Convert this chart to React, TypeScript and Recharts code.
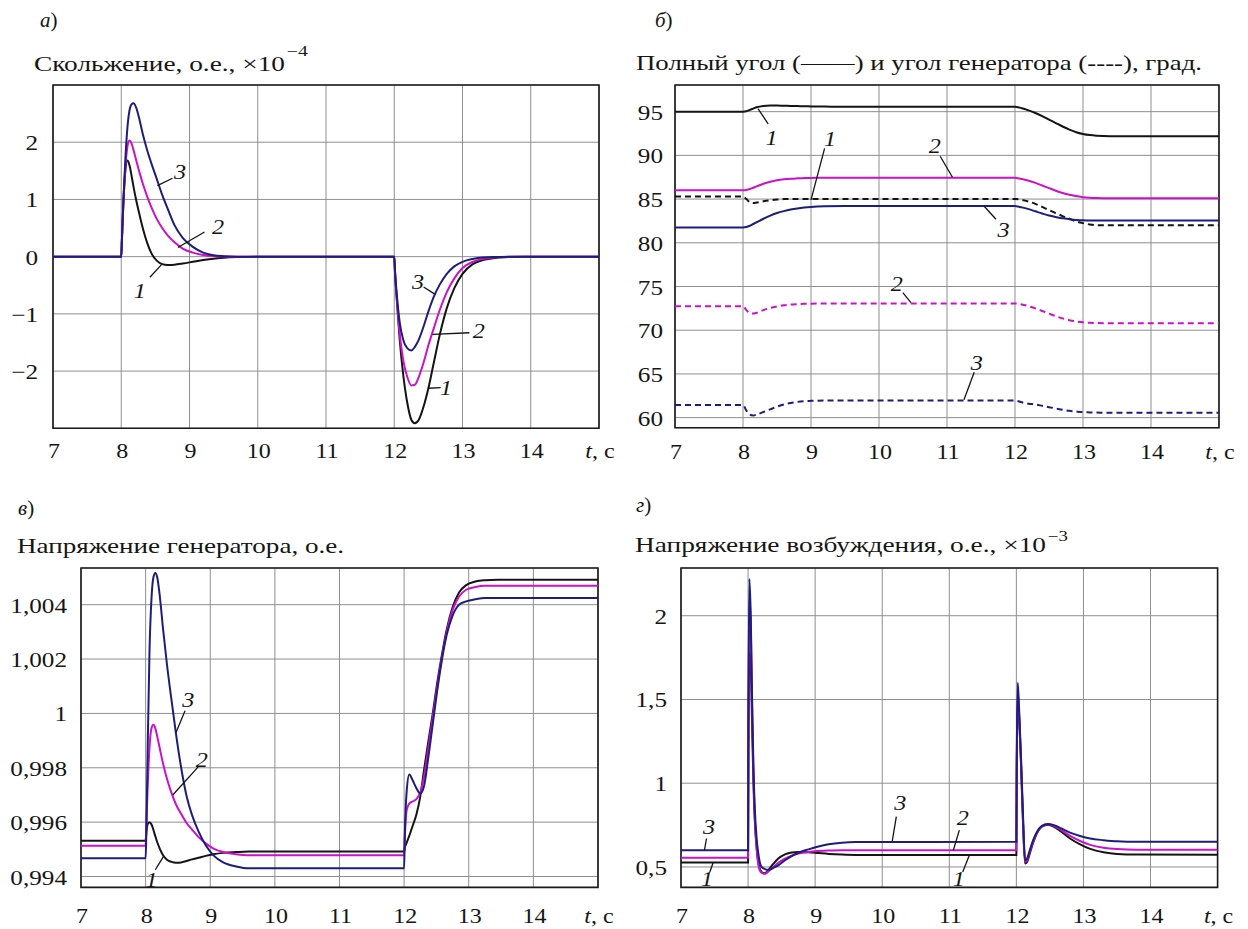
import React from 'react';
import { LineChart, Line, XAxis, YAxis, CartesianGrid, ReferenceArea, ReferenceLine, ReferenceDot } from 'recharts';

const FONT = "Liberation Serif, Tinos, DejaVu Serif, Noto Serif, Times New Roman, serif";
const INK = '#151515';
const C1 = '#141414';
const C2 = '#cc11cc';
const C3 = '#1d1d7e';
const GRID = '#8f8f8f';
const STRETCH = 1.2;

// ---------- shared axis ----------
const tTicks = [7, 8, 9, 10, 11, 12, 13, 14, 15];

// ---------- panel а: slip ×10^-4 ----------
const tA = [7, 8, 8.01, 8.03, 8.06, 8.09, 8.12, 8.15, 8.18, 8.22, 8.27, 8.32, 8.38, 8.45, 8.52, 8.6, 8.68, 8.78, 8.9, 9.05, 9.2, 9.35, 9.5, 9.7, 10,
  12, 12.01, 12.04, 12.08, 12.13, 12.19, 12.25, 12.3, 12.36, 12.43, 12.5, 12.58, 12.67, 12.77, 12.88, 13.0, 13.15, 13.3, 13.5, 13.7, 13.9, 14.2, 15];
const slip1 = [0, 0, 0.3, 0.9, 1.5, 1.68, 1.6, 1.42, 1.22, 0.98, 0.72, 0.48, 0.24, 0.04, -0.07, -0.13, -0.145, -0.14, -0.12, -0.09, -0.06, -0.035, -0.02, -0.008, 0,
  0, -0.25, -0.8, -1.45, -2.05, -2.55, -2.85, -2.91, -2.85, -2.62, -2.3, -1.85, -1.35, -0.9, -0.55, -0.3, -0.13, -0.06, -0.02, -0.005, 0, 0, 0];
const slip2 = [0, 0, 0.3, 0.9, 1.55, 1.92, 2.03, 1.98, 1.86, 1.68, 1.46, 1.26, 1.05, 0.84, 0.66, 0.5, 0.37, 0.25, 0.14, 0.07, 0.03, 0.01, 0.003, 0, 0,
  0, -0.25, -0.78, -1.35, -1.8, -2.1, -2.25, -2.24, -2.1, -1.85, -1.55, -1.25, -0.92, -0.62, -0.38, -0.2, -0.09, -0.04, -0.012, 0, 0, 0, 0];
const slip3 = [0, 0, 0.3, 0.95, 1.7, 2.25, 2.55, 2.66, 2.68, 2.6, 2.38, 2.12, 1.86, 1.6, 1.36, 1.08, 0.84, 0.55, 0.33, 0.17, 0.07, 0.025, 0.008, 0, 0,
  0, -0.22, -0.7, -1.15, -1.45, -1.6, -1.64, -1.58, -1.45, -1.22, -0.96, -0.7, -0.48, -0.3, -0.17, -0.09, -0.04, -0.015, -0.005, 0, 0, 0, 0];
const yTicksA = [-2, -1, 0, 1, 2];

// ---------- panel б: angles, deg ----------
const tB = [7, 8, 8.05, 8.1, 8.15, 8.2, 8.3, 8.4, 8.5, 8.6, 8.7, 8.8, 8.9, 9.0, 9.2, 9.5,
  12, 12.1, 12.2, 12.3, 12.4, 12.5, 12.6, 12.7, 12.8, 12.9, 13.0, 13.1, 13.2, 13.4, 15];
const full1 = [95.0, 95.0, 95.05, 95.2, 95.35, 95.5, 95.65, 95.7, 95.7, 95.68, 95.66, 95.64, 95.62, 95.6, 95.58, 95.55,
  95.55, 95.4, 95.15, 94.85, 94.5, 94.1, 93.7, 93.3, 92.95, 92.65, 92.45, 92.32, 92.25, 92.2, 92.2];
const full2 = [86.0, 86.0, 86.05, 86.15, 86.3, 86.45, 86.75, 86.98, 87.15, 87.26, 87.33, 87.37, 87.4, 87.42, 87.43, 87.43,
  87.43, 87.3, 87.1, 86.85, 86.55, 86.25, 85.95, 85.7, 85.5, 85.35, 85.22, 85.15, 85.12, 85.1, 85.1];
const full3 = [81.75, 81.75, 81.8, 81.95, 82.15, 82.35, 82.75, 83.1, 83.4, 83.62, 83.8, 83.93, 84.03, 84.1, 84.17, 84.2,
  84.2, 84.05, 83.85, 83.6, 83.35, 83.12, 82.95, 82.8, 82.7, 82.62, 82.57, 82.55, 82.55, 82.55, 82.55];
const gen1 = [85.3, 85.3, 85.0, 84.65, 84.55, 84.6, 84.75, 84.87, 84.95, 85.0, 85.02, 85.02, 85.02, 85.02, 85.02, 85.02,
  85.02, 84.92, 84.72, 84.45, 84.1, 83.75, 83.4, 83.05, 82.75, 82.45, 82.25, 82.1, 82.02, 82.0, 82.0];
const gen2 = [72.75, 72.75, 72.3, 71.95, 71.9, 72.0, 72.3, 72.55, 72.72, 72.85, 72.93, 72.98, 73.02, 73.04, 73.05, 73.05,
  73.05, 72.95, 72.75, 72.5, 72.2, 71.9, 71.6, 71.35, 71.15, 71.0, 70.9, 70.85, 70.82, 70.8, 70.8];
const gen3 = [61.45, 61.45, 60.8, 60.35, 60.25, 60.35, 60.65, 60.95, 61.25, 61.5, 61.68, 61.8, 61.88, 61.92, 61.95, 61.95,
  61.95, 61.75, 61.6, 61.5, 61.35, 61.2, 61.05, 60.9, 60.78, 60.7, 60.63, 60.6, 60.58, 60.55, 60.55];
const yTicksB = [60, 65, 70, 75, 80, 85, 90, 95];

// ---------- panel в: generator voltage ----------
const tC = [7, 8, 8.01, 8.03, 8.06, 8.09, 8.12, 8.15, 8.18, 8.22, 8.27, 8.33, 8.4, 8.47, 8.55, 8.63, 8.72, 8.82, 8.93, 9.05, 9.2, 9.4, 9.6,
  12, 12.01, 12.04, 12.08, 12.13, 12.19, 12.25, 12.31, 12.37, 12.44, 12.51, 12.58, 12.66, 12.75, 12.85, 12.96, 13.1, 13.25, 13.45, 13.7, 15];
const volt1 = [0.99532, 0.99532, 0.9956, 0.99592, 0.996, 0.99592, 0.99572, 0.99548, 0.99526, 0.99502, 0.99478, 0.99462, 0.99454, 0.99451, 0.99452, 0.99457, 0.99463, 0.99469, 0.99476, 0.99482, 0.99487, 0.9949, 0.99492,
  0.99492, 0.99505, 0.99525, 0.9955, 0.99585, 0.99628, 0.99695, 0.99795, 0.9989, 0.99995, 1.0011, 1.0021, 1.0031, 1.0039, 1.00445, 1.00472, 1.00485, 1.0049, 1.00492, 1.00492, 1.00492];
const volt2 = [0.99513, 0.99513, 0.9958, 0.9972, 0.99875, 0.99945, 0.99958, 0.99945, 0.99915, 0.9987, 0.99815, 0.9976, 0.99708, 0.99665, 0.9963, 0.99598, 0.99572, 0.99545, 0.99522, 0.99503, 0.9949, 0.99482, 0.99478,
  0.99478, 0.9954, 0.99645, 0.99668, 0.99676, 0.99685, 0.9971, 0.9977, 0.99865, 0.9998, 1.00095, 1.002, 1.003, 1.0038, 1.0043, 1.00455, 1.00465, 1.0047, 1.0047, 1.0047, 1.0047];
const volt3 = [0.99467, 0.99467, 0.9955, 0.9985, 1.0023, 1.0042, 1.005, 1.00517, 1.005, 1.0043, 1.0031, 1.0018, 1.0005, 0.99925, 0.998, 0.997, 0.99625, 0.99565, 0.99515, 0.99478, 0.99452, 0.99437, 0.9943,
  0.9943, 0.9955, 0.99715, 0.99775, 0.99755, 0.99725, 0.99705, 0.99735, 0.9983, 0.99955, 1.0008, 1.0019, 1.0029, 1.0036, 1.004, 1.00412, 1.0042, 1.00425, 1.00425, 1.00425, 1.00425];
const yTicksC = [0.994, 0.996, 0.998, 1, 1.002, 1.004];

// ---------- panel г: excitation voltage ×10^-3 ----------
const tD = [7, 8, 8.005, 8.02, 8.04, 8.06, 8.08, 8.1, 8.13, 8.16, 8.2, 8.24, 8.28, 8.32, 8.38, 8.45, 8.55, 8.65, 8.75, 8.9, 9.05, 9.2, 9.4, 9.6,
  12, 12.005, 12.02, 12.04, 12.07, 12.1, 12.13, 12.16, 12.2, 12.25, 12.3, 12.38, 12.47, 12.56, 12.67, 12.8, 12.95, 13.1, 13.3, 13.5, 13.8, 15];
const exc1 = [0.527, 0.527, 1.2, 1.78, 1.7, 1.35, 1.0, 0.78, 0.6, 0.51, 0.47, 0.462, 0.47, 0.49, 0.52, 0.55, 0.575, 0.587, 0.59, 0.588, 0.583, 0.578, 0.574, 0.572,
  0.572, 1.0, 1.5, 1.4, 1.1, 0.75, 0.52, 0.53, 0.58, 0.645, 0.695, 0.74, 0.752, 0.74, 0.71, 0.67, 0.635, 0.608, 0.588, 0.578, 0.574, 0.573];
const exc2 = [0.555, 0.555, 1.3, 2.1, 1.95, 1.45, 1.05, 0.8, 0.6, 0.5, 0.465, 0.459, 0.465, 0.48, 0.5, 0.525, 0.55, 0.568, 0.58, 0.59, 0.595, 0.598, 0.6, 0.6,
  0.6, 1.05, 1.55, 1.42, 1.12, 0.77, 0.53, 0.54, 0.59, 0.65, 0.7, 0.742, 0.755, 0.745, 0.72, 0.685, 0.655, 0.632, 0.615, 0.607, 0.603, 0.603];
const exc3 = [0.6, 0.6, 1.4, 2.22, 2.0, 1.5, 1.1, 0.85, 0.66, 0.56, 0.5, 0.49, 0.483, 0.484, 0.495, 0.51, 0.54, 0.565, 0.585, 0.605, 0.622, 0.635, 0.645, 0.649,
  0.65, 1.1, 1.6, 1.45, 1.15, 0.8, 0.54, 0.55, 0.6, 0.66, 0.705, 0.745, 0.757, 0.75, 0.73, 0.705, 0.685, 0.67, 0.66, 0.653, 0.65, 0.65];
const yTicksD = [0.5, 1, 1.5, 2];

// ---------- curve number annotations: [text, tx, ty, x1, y1, x2, y2] ----------
type Note = [string, number, number, number, number, number, number];
const notesA: Note[] = [
  ['3', 8.86, 1.48, 8.53, 1.24, 8.75, 1.37],
  ['2', 9.42, 0.51, 8.83, 0.16, 9.22, 0.43],
  ['1', 8.27, -0.6, 8.42, -0.36, 8.59, -0.14],
  ['3', 12.35, -0.45, 12.43, -0.53, 12.6, -0.66],
  ['2', 13.24, -1.3, 12.56, -1.36, 13.1, -1.33],
  ['1', 12.76, -2.29, 12.5, -2.3, 12.68, -2.29],
];
const notesB: Note[] = [
  ['1', 8.42, 91.95, 8.22, 95.35, 8.37, 93.6],
  ['1', 9.28, 91.9, 9.2, 90.8, 9.0, 84.9],
  ['2', 10.82, 91.07, 10.9, 89.9, 11.08, 87.5],
  ['3', 11.83, 81.45, 11.72, 82.7, 11.55, 84.15],
  ['2', 10.26, 75.3, 10.35, 74.3, 10.47, 73.15],
  ['3', 11.44, 66.25, 11.4, 65.2, 11.25, 62.05],
];
const notesC: Note[] = [
  ['3', 8.66, 1.0005, 8.61, 1.0001, 8.47, 0.9993],
  ['2', 8.87, 0.99829, 8.82, 0.99805, 8.42, 0.997],
  ['1', 8.09, 0.99388, 8.15, 0.99425, 8.28, 0.99475],
];
const notesD: Note[] = [
  ['3', 7.42, 0.74, 7.38, 0.67, 7.35, 0.6],
  ['1', 7.39, 0.43, 7.43, 0.47, 7.48, 0.527],
  ['3', 10.27, 0.88, 10.21, 0.8, 10.15, 0.655],
  ['2', 11.2, 0.79, 11.15, 0.72, 11.06, 0.6],
  ['1', 11.14, 0.43, 11.2, 0.47, 11.3, 0.572],
];

const fmt = (v: number) => {
  const s = String(v).replace('.', ',');
  return v < 0 ? '\u2212' + s.slice(1) : s;
};

type Series = { key: string; color: string; dash?: string };

const XTick = (props: any) => {
  const { x, y, payload, off } = props;
  const v = payload.value;
  return (
    <text transform={`translate(${x + 1} ${y + off}) scale(${STRETCH} 1)`} textAnchor="middle"
      style={{ fontFamily: FONT }} fontSize={20} fill={INK}>
      {v === 15 ? (<><tspan fontStyle="italic">t</tspan>, с</>) : String(v)}
    </text>
  );
};

const YTick = (props: any) => {
  const { x, y, payload, gap } = props;
  return (
    <text transform={`translate(${x - gap} ${y + 8}) scale(${STRETCH} 1)`} textAnchor="end"
      style={{ fontFamily: FONT }} fontSize={21} fill={INK}>
      {fmt(payload.value)}
    </text>
  );
};

type PanelProps = {
  left: number; top: number; width: number; height: number;
  data: any[]; series: Series[];
  yDomain: [number, number]; yTicks: number[];
  yGap: number; xOff: number; notes: Note[];
};

const Panel = ({ left, top, width, height, data, series, yDomain, yTicks, yGap, xOff, notes }: PanelProps) => {
  const YW = 70, MT = 10, MR = 45, XH = 50;
  const W = YW + width + MR;
  const H = MT + height + XH;
  return (
    <div style={{ position: 'absolute', left: left - YW, top: top - MT, width: W, height: H }}>
      <LineChart width={W} height={H} data={data} margin={{ top: MT, right: MR, left: 0, bottom: 0 }}>
        <CartesianGrid stroke={GRID} strokeWidth={1} />
        <XAxis dataKey="t" type="number" domain={[7, 15]} ticks={tTicks} allowDataOverflow interval={0}
          axisLine={false} tickLine={false} tickSize={0} tickMargin={0} height={XH}
          tick={(p: any) => <XTick {...p} off={xOff} />} />
        <YAxis type="number" domain={yDomain} ticks={yTicks} allowDataOverflow interval={0}
          axisLine={false} tickLine={false} tickSize={0} tickMargin={0} width={YW}
          tick={(p: any) => <YTick {...p} gap={yGap} />} />
        <ReferenceArea x1={7} x2={15} y1={yDomain[0]} y2={yDomain[1]} fill="none" stroke="#1a1a1a" strokeWidth={1.6} />
        {series.map((s) => (
          <Line key={s.key} dataKey={s.key} type="monotone" stroke={s.color} strokeWidth={2}
            strokeDasharray={s.dash} dot={false} activeDot={false} isAnimationActive={false} />
        ))}
        {notes.map((n, i) => (
          <ReferenceLine key={'l' + i} segment={[{ x: n[3], y: n[4] }, { x: n[5], y: n[6] }]}
            stroke={INK} strokeWidth={1.3} />
        ))}
        {notes.map((n, i) => (
          <ReferenceDot key={'d' + i} x={n[1]} y={n[2]} r={1}
            shape={(p: any) => (
              <text transform={`translate(${p.cx} ${p.cy + 7}) scale(1.1 1)`} textAnchor="middle"
                style={{ fontFamily: FONT }} fontStyle="italic" fontSize={22} fill={INK}>{n[0]}</text>
            )} />
        ))}
      </LineChart>
    </div>
  );
};

const dataA = tA.map((t, i) => ({ t, s1: slip1[i], s2: slip2[i], s3: slip3[i] }));
const dataB = tB.map((t, i) => ({ t, f1: full1[i], f2: full2[i], f3: full3[i], g1: gen1[i], g2: gen2[i], g3: gen3[i] }));
const dataC = tC.map((t, i) => ({ t, s1: volt1[i], s2: volt2[i], s3: volt3[i] }));
const dataD = tD.map((t, i) => ({ t, s1: exc1[i], s2: exc2[i], s3: exc3[i] }));

const tri: Series[] = [
  { key: 's1', color: C1 },
  { key: 's2', color: C2 },
  { key: 's3', color: C3 },
];
const seriesB: Series[] = [
  { key: 'g1', color: C1, dash: '6 4' },
  { key: 'g2', color: C2, dash: '6 4' },
  { key: 'g3', color: C3, dash: '6 4' },
  { key: 'f1', color: C1 },
  { key: 'f2', color: C2 },
  { key: 'f3', color: C3 },
];

export default function App() {
  return (
    <div style={{ position: 'absolute', left: 0, top: 0, width: 1248, height: 929, background: '#fff', overflow: 'hidden', fontFamily: FONT }}>
      <svg width={1248} height={929} style={{ position: 'absolute', left: 0, top: 0, fontFamily: FONT }} fill={INK}>
        <text x={40} y={27} fontSize={21}><tspan fontStyle="italic">а</tspan>)</text>
        <text x={655} y={27} fontSize={21}><tspan fontStyle="italic">б</tspan>)</text>
        <text x={18} y={515} fontSize={21}><tspan fontStyle="italic">в</tspan>)</text>
        <text x={636} y={512} fontSize={21}><tspan fontStyle="italic">г</tspan>)</text>

        <text x={34} y={71} fontSize={21} textLength={251} lengthAdjust="spacingAndGlyphs">Скольжение, о.е., ×10</text>
        <text x={287} y={56} fontSize={14} textLength={21} lengthAdjust="spacingAndGlyphs">−4</text>

        <text x={636} y={70} fontSize={21} textLength={566} lengthAdjust="spacingAndGlyphs">Полный угол (——) и угол генератора (----), град.</text>

        <text x={17} y={553} fontSize={21} textLength={327} lengthAdjust="spacingAndGlyphs">Напряжение генератора, о.е.</text>

        <text x={635} y={552} fontSize={21} textLength={411} lengthAdjust="spacingAndGlyphs">Напряжение возбуждения, о.е., ×10</text>
        <text x={1048} y={541} fontSize={14} textLength={20} lengthAdjust="spacingAndGlyphs">−3</text>
      </svg>

      <Panel left={53.3} top={85} width={546} height={343.3} data={dataA} series={tri}
        yDomain={[-3, 3]} yTicks={yTicksA} yGap={15} xOff={30} notes={notesA} />
      <Panel left={675} top={85} width={544} height={342.7} data={dataB} series={seriesB}
        yDomain={[58.85, 98.05]} yTicks={yTicksB} yGap={12} xOff={31} notes={notesB} />
      <Panel left={81} top={568.3} width={517} height={319.4} data={dataC} series={tri}
        yDomain={[0.9936, 1.00535]} yTicks={yTicksC} yGap={14} xOff={35.5} notes={notesC} />
      <Panel left={680.7} top={568.3} width={536.6} height={319.4} data={dataD} series={tri}
        yDomain={[0.378, 2.285]} yTicks={yTicksD} yGap={14} xOff={35.5} notes={notesD} />
    </div>
  );
}
